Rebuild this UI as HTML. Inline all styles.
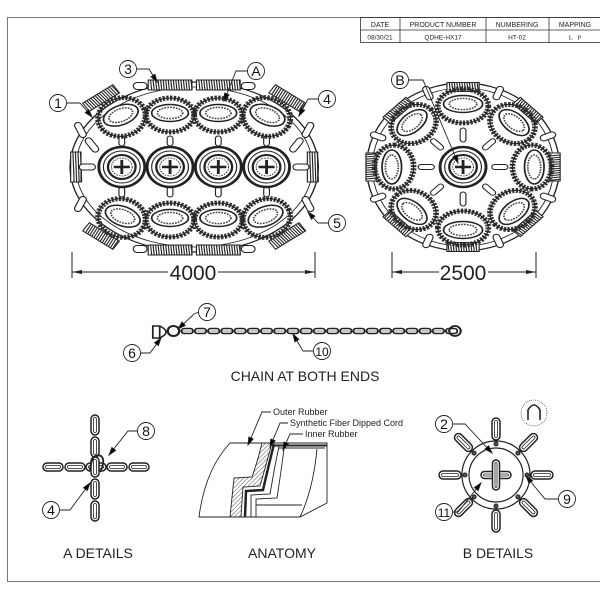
<!DOCTYPE html>
<html><head><meta charset="utf-8"><style>
html,body{margin:0;padding:0;background:#fff;}
svg{display:block;font-family:"Liberation Sans",sans-serif;}
</style></head><body>
<svg id="s" width="600" height="600" viewBox="0 0 600 600" xmlns="http://www.w3.org/2000/svg">
<defs><pattern id="h" width="3" height="3" patternUnits="userSpaceOnUse" patternTransform="rotate(45)"><line x1="0" y1="0" x2="0" y2="3" stroke="#222" stroke-width="0.8"/></pattern></defs>
<rect x="7.5" y="17.5" width="600" height="564" fill="none" stroke="#777" stroke-width="1"/>
<g stroke="#333" stroke-width="0.8" fill="none">
<rect x="360.5" y="17.5" width="250" height="25"/>
<line x1="360" y1="30" x2="600" y2="30"/>
<line x1="400" y1="17" x2="400" y2="43"/>
<line x1="486" y1="17" x2="486" y2="43"/>
<line x1="549" y1="17" x2="549" y2="43"/>
</g>
<g font-size="7" fill="#222" text-anchor="middle">
<text x="380" y="27">DATE</text><text x="443" y="27">PRODUCT NUMBER</text><text x="517" y="27">NUMBERING</text><text x="575" y="27">MAPPING</text>
<text x="380" y="39.5" font-size="6.5">08/30/21</text><text x="443" y="39.5" font-size="6.5">QDHE-HX17</text><text x="517" y="39.5" font-size="6.5">HT-02</text><text x="575" y="39.5" font-family="Liberation Serif" font-size="6.5">L&#160;&#160;&#160;P</text>
</g>
<g id="draw" stroke="#222" fill="none" transform="scale(1.149 1)"></g>
<g id="draw2" stroke="#222" fill="none"></g>
<!-- anatomy -->
<g stroke="#222" fill="none" stroke-width="0.9">
<path d="M199 517 Q205 470 230 443 L327 443 L327 503 L300 517 Z" fill="#fff"/>
<path d="M262 443 Q258 460 252 477 L234 478 L230 517 L241 517 L243 487 L260 486 Q266 465 272 443 Z" fill="url(#h)"/>
<path d="M274 444 Q268 468 263 490 L246 491 L245 517" stroke-width="2.5"/>
<path d="M279 446 Q274 470 270 494 L251 495 L251 517"/>
<path d="M284 449 Q281 472 277 498 L256 499 L256 517"/>
<line x1="272" y1="445.5" x2="327" y2="445.5" stroke-width="2"/>
<line x1="279" y1="448" x2="325" y2="448"/>
<path d="M317 449 Q313 490 300 517"/>
<path d="M256 505 L302 505"/>
</g>
<g stroke="#222" stroke-width="1">
<line x1="72" y1="252" x2="72" y2="278"/><line x1="315" y1="252" x2="315" y2="278"/>
<line x1="72" y1="272" x2="168" y2="272"/><line x1="218" y1="272" x2="315" y2="272"/>
<line x1="392" y1="252" x2="392" y2="278"/><line x1="536" y1="252" x2="536" y2="278"/>
<line x1="392" y1="272" x2="439" y2="272"/><line x1="488" y1="272" x2="536" y2="272"/>
</g>
<g fill="#222"><path d="M72 272l10-2v4z"/><path d="M315 272l-10-2v4z"/><path d="M392 272l10-2v4z"/><path d="M536 272l-10-2v4z"/></g>
<g font-size="21" fill="#222" text-anchor="middle"><text x="193" y="280">4000</text><text x="463" y="280">2500</text></g>
<g font-size="14" fill="#222" text-anchor="middle">
<text x="305" y="381">CHAIN AT BOTH ENDS</text>
<text x="98" y="558">A DETAILS</text><text x="282" y="558">ANATOMY</text><text x="498" y="558">B DETAILS</text>
</g>
<g font-size="9" fill="#222"><text x="273" y="415">Outer Rubber</text><text x="290" y="426">Synthetic Fiber Dipped Cord</text><text x="305" y="437">Inner Rubber</text></g>
<g id="labels" stroke="#222" stroke-width="0.9" fill="#fff"></g>
</svg>
<script>
const NS="http://www.w3.org/2000/svg",D=document.getElementById('draw'),D2=document.getElementById('draw2'),L=document.getElementById('labels');
function el(p,t,a){const e=document.createElementNS(NS,t);for(const k in a)e.setAttribute(k,a[k]);p.appendChild(e);return e;}
function tireFlat(x,y,r){el(D,'circle',{cx:x,cy:y,r:r,'stroke-width':2.5});el(D,'circle',{cx:x,cy:y,r:r-4,'stroke-width':1,fill:'#fff'});
el(D,'circle',{cx:x,cy:y,r:r-8,'stroke-width':2});el(D,'circle',{cx:x,cy:y,r:r-11,'stroke-width':0.8,'stroke-dasharray':'1.5 1'});
el(D,'line',{x1:x-7,y1:y,x2:x+7,y2:y,'stroke-width':2.5});el(D,'line',{x1:x,y1:y-7,x2:x,y2:y+7,'stroke-width':2.5});}
function tireSide(x,y,rx,ry,rot){const g=el(D,'g',{transform:`translate(${x} ${y}) rotate(${rot})`});
el(g,'ellipse',{cx:0,cy:0,rx:rx,ry:ry,'stroke-width':5,'stroke-dasharray':'2 1.2',stroke:'#333'});
el(g,'ellipse',{cx:0,cy:0,rx:rx,ry:ry,'stroke-width':1});
el(g,'ellipse',{cx:0,cy:-2,rx:rx-5,ry:ry*0.5,'stroke-width':1.5,fill:'#fff'});
el(g,'ellipse',{cx:0,cy:-2,rx:rx-10,ry:ry*0.33,'stroke-width':1.5,stroke:'#444','stroke-dasharray':'1.5 1'});}
function tread(x,y,w,h,rot){const g=el(D,'g',{transform:`translate(${x} ${y}) rotate(${rot})`});
el(g,'rect',{x:-w/2,y:-h/2,width:w,height:h,'stroke-width':1,fill:'#fff'});
for(let i=-w/2+2;i<w/2;i+=2.2)el(g,'line',{x1:i,y1:-h/2,x2:i+1,y2:h/2,'stroke-width':1});}
function link(x,y,w,h,rot,p){const g=el(p||D,'g',{transform:`translate(${x} ${y}) rotate(${rot})`});
el(g,'rect',{x:-w/2,y:-h/2,width:w,height:h,rx:Math.min(w,h)/2,'stroke-width':p?1.5:1,fill:'#fff'});
if(p)el(g,'rect',{x:-w/2+2.5,y:-h/2+2.5,width:w-5,height:h-5,rx:Math.min(w,h)/2-2.5,'stroke-width':0.8});}
function line(a,b,c,d,w){el(D,'line',{x1:a,y1:b,x2:c,y2:d,'stroke-width':w||1});}
const cx=[106,148,190,232];
el(D,'ellipse',{cx:169,cy:167,rx:108,ry:85,'stroke-width':1.2});
el(D,'ellipse',{cx:169,cy:167,rx:103,ry:80,'stroke-width':0.8});
[[148,85],[190,85],[148,250],[190,250]].forEach(p=>tread(p[0],p[1],38,10,0));
tread(66,167,9,30,0);tread(272,167,9,30,0);
[[88,98,-35],[250,98,35],[88,236,35],[250,236,-35]].forEach(p=>tread(p[0],p[1],32,10,p[2]));
[[122,86],[216,86],[122,249],[216,249]].forEach(p=>link(p[0],p[1],12,7,0));
[[70,130,65],[268,130,-65],[70,204,-65],[268,204,65],[80,145,55],[258,145,-55]].forEach(p=>link(p[0],p[1],16,6,p[2]));
for(const x of cx){link(x,141,5,10,0);link(x,192,5,10,0);}
for(let i=0;i<3;i++){line(cx[i]+20,115,cx[i+1]-20,115);line(cx[i]+20,218,cx[i+1]-20,218);line(cx[i]+20,167,cx[i+1]-20,167);}
link(76,167,14,6,0);link(262,167,14,6,0);
for(const x of cx){tireFlat(x,167,20);}
tireSide(106,117,21,19,-25);tireSide(148,115,21,17,0);tireSide(190,115,21,17,0);tireSide(232,117,21,19,25);
tireSide(106,218,21,19,25);tireSide(148,220,21,17,0);tireSide(190,220,21,17,0);tireSide(232,218,21,19,-25);
const X=403,Y=167;
el(D,'circle',{cx:X,cy:Y,r:84,'stroke-width':1.2});el(D,'circle',{cx:X,cy:Y,r:79,'stroke-width':0.8});
for(let k=0;k<8;k++){const a=k*Math.PI/4;const tx=X+80*Math.sin(a),ty=Y-80*Math.cos(a);tread(tx,ty,28,9,k*45);
const a2=a+Math.PI/8;link(X+80*Math.sin(a2),Y-80*Math.cos(a2),14,6,k*45+22.5+90);
link(X+32*Math.sin(a),Y-32*Math.cos(a),5,14,k*45);}
tireSide(403,106,22,17,0);tireSide(403,228,22,17,180);tireSide(343,167,22,17,-90);tireSide(463,167,22,17,90);
tireSide(360,124,21,18,-45);tireSide(446,124,21,18,45);tireSide(360,210,21,18,-135);tireSide(446,210,21,18,135);
tireFlat(403,167,20);
el(D,'rect',{x:133,y:326,width:6,height:12,'stroke-width':1.5});el(D,'path',{d:'M139 326 Q150 332 139 338','stroke-width':1.5});
el(D,'circle',{cx:151,cy:331,r:5,'stroke-width':2});
for(let x=158;x<393;x+=11.5){el(D,'rect',{x:x,y:328.5,width:10,height:5,rx:2.5,'stroke-width':1.6});}
el(D,'circle',{cx:396,cy:331,r:5,'stroke-width':1.8});
line(155,331,392,331,0.6);
[53,75,117,139].forEach(x=>link(x,467,20,8,0,D2));
[425,447,489,511].forEach(y=>link(95,y,8,20,0,D2));
link(96,467,20,8,0,D2);link(95,467,8,20,0,D2);
el(D2,'path',{d:'M90 470 Q92 452 101 456 Q106 460 100 472','stroke-width':1.8,fill:'none'});
const bx=496,by=475;
el(D2,'circle',{cx:bx,cy:by,r:34,'stroke-width':1.2});el(D2,'circle',{cx:bx,cy:by,r:27,'stroke-width':1.2});
for(let k=0;k<8;k++){const a=k*Math.PI/4,dx=Math.sin(a),dy=-Math.cos(a);
link(bx+46*dx,by+46*dy,8,22,k*45,D2);
el(D2,'circle',{cx:bx+31*dx,cy:by+31*dy,r:2,'stroke-width':1,fill:'#555'});}
link(bx,by,30,7,0,D2);link(bx,by,7,30,0,D2);
el(D2,'circle',{cx:534,cy:413,r:13,'stroke-width':0.6,'stroke-dasharray':'1 1'});
el(D2,'path',{d:'M528 420 L528 410 Q534 400 540 410 L540 420','stroke-width':1.6});
function arrow(pts){const a=pts.trim().split(/[ ,]+/).map(Number);
el(L,'polyline',{points:a.join(' '),fill:'none'});
const n=a.length;const x2=a[n-2],y2=a[n-1],x1=a[n-4],y1=a[n-3];
const ang=Math.atan2(y2-y1,x2-x1);const h=8;el(L,'path',{d:`M${x2} ${y2}L${x2-h*Math.cos(ang-0.3)} ${y2-h*Math.sin(ang-0.3)}L${x2-h*Math.cos(ang+0.3)} ${y2-h*Math.sin(ang+0.3)}Z`,fill:'#000'});}
function lab(x,y,t,pts){arrow(pts);
el(L,'circle',{cx:x,cy:y,r:8.5});const tx=el(L,'text',{x:x,y:y+5,'text-anchor':'middle','font-size':t.length>1?12:14,fill:'#111',stroke:'none'});tx.textContent=t;}
arrow('271 412 262 412 248 445');arrow('288 423 280 423 270 447');arrow('303 434 290 434 283 450');
lab(128,69,'3','137 69 149 69 157 82');lab(256,71,'A','247 71 236 71 224 101');lab(58,103,'1','67 103 80 103 92 117');
lab(327,99,'4','318 99 308 99 299 116');lab(337,223,'5','328 223 318 223 308 212');lab(400,80,'B','409 80 423 80 458 163');
lab(207,312,'7','199 312 194 314 178 329');lab(132,353,'6','140 353 150 353 161 338');lab(322,351,'10','313 351 303 351 293 334');
lab(146,431,'8','138 431 128 431 109 455');lab(51,510,'4','60 510 70 510 90 483');
lab(444,424,'2','453 424 465 424 492 453');lab(567,499,'9','558 499 545 499 526 476');lab(444,512,'11','452 512 458 512 481 483');
</script>
</body></html>
